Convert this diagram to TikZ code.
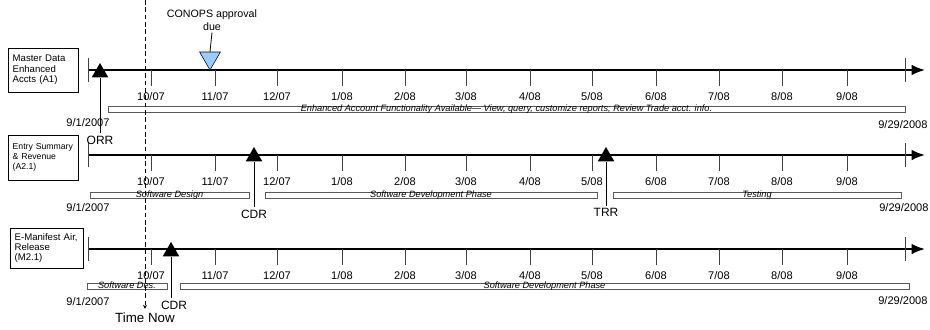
\documentclass[tikz,border=0pt]{standalone}
\usepackage{fontspec}
\setmainfont{Liberation Sans}
\usetikzlibrary{shapes.geometric,arrows.meta}
\definecolor{conopsblue}{RGB}{153,204,255}

\begin{document}
\begin{tikzpicture}[x=0.75pt,y=-0.75pt,
    every node/.style={font=\fontsize{8.3}{9}\selectfont},
    axis/.style={line width=1.5pt, -{Latex[length=10pt,width=8pt]}},
    tick/.style={line width=0.6pt, black!75},
    mile/.style={regular polygon, regular polygon sides=3, fill=black, inner sep=0pt, minimum size=14.25pt},
    milelbl/.style={inner sep=1.5pt, font=\fontsize{9}{10}\selectfont},
    task/.style={draw=black!65, fill=white, line width=0.5pt, inner sep=0pt, minimum height=4.5pt,
        text height=4pt, text depth=0.5pt, font=\fontsize{6.9}{7}\selectfont\itshape},
    project/.style={draw, line width=0.6pt, align=left, inner xsep=3.5pt, inner ysep=2pt,
        font=\fontsize{7.2}{8}\selectfont},
    date/.style={inner sep=0pt}]
    \useasboundingbox (0,0) rectangle (930,329);

    %time lines with month ticks
    \foreach \ry/\rn in {70/a,155/b,249/c}{
        \coordinate (s\rn) at (88,\ry);
        \coordinate (e\rn) at (925,\ry);
        \draw [axis] (s\rn) -- (e\rn);
        \draw [tick] (88,\ry-12) -- (88,\ry+12);
        \draw [tick] (905,\ry-12) -- (905,\ry+12);
        \foreach \mx/\mm/\yy [count=\i] in {151/10/07,215/11/07,277/12/07,342/1/08,405/2/08,466/3/08,
                530/4/08,592/5/08,656/6/08,719/7/08,782/8/08,847/9/08}{
            \draw [tick] (\mx,\ry) -- (\mx,\ry+16);
            \node (m\rn\i) at (\mx,\ry+27) {\mm/\yy};
        }
    }

    %Master Data row
    \node[project, text width=45.5pt, minimum height=33pt] (pA) at (43,70) {Master Data\\Enhanced\\Accts (A1)};
    \node[task, minimum width=797*0.75pt] (enh) at (506.5,109.5)
        {Enhanced Account Functionality Available--- View, query, customize reports; Review Trade acct. info.};
    \node[date] (startA) at (88,123) {9/1/2007};
    \node[date, anchor=west] (endA) at (878,125) {9/29/2008};
    \node[mile] (orrTri) at (100,72.5) {};
    \node[milelbl] (orr) at (100,140) {ORR};
    \draw [line width=0.6pt] (orrTri.south) -- (orr.north);
    \node[regular polygon, regular polygon sides=3, shape border rotate=180, draw, fill=conopsblue,
        inner sep=0pt, minimum size=18pt] (conops) at (210,58) {};
    \node[align=center, inner sep=1pt, font=\fontsize{8}{9.75}\selectfont] (conopsTxt) at (212,20.5) {CONOPS approval\\due};
    \draw [line width=0.6pt] (conopsTxt.south) -- (conops.north);

    %Entry Summary row
    \node[project, text width=45.5pt, minimum height=33.75pt, font=\fontsize{6.5}{7.5}\selectfont] (pB) at (43,157.5)
        {Entry Summary\\\& Revenue\\(A2.1)};
    \node[task, minimum width=159*0.75pt] (swDesign) at (169.5,195.5) {Software Design};
    \node[task, minimum width=332*0.75pt] (swDevB) at (431,195.5) {Software Development Phase};
    \node[task, minimum width=288*0.75pt] (testing) at (757,195.5) {Testing};
    \node[date] (startB) at (88,208) {9/1/2007};
    \node[date, anchor=west] (endB) at (879,208) {9/29/2008};
    \node[mile] (cdrTri) at (254,156.5) {};
    \node[milelbl] (cdr) at (254,214) {CDR};
    \draw [line width=0.6pt] (cdrTri.south) -- (cdr.north);
    \node[mile] (trrTri) at (606,156.5) {};
    \node[milelbl] (trr) at (606,212) {TRR};
    \draw [line width=0.6pt] (trrTri.south) -- (trr.north);

    %E-Manifest row
    \node[project, text width=47.75pt, minimum height=30pt, font=\fontsize{7.2}{7.5}\selectfont] (pC) at (46.5,248)
        {E-Manifest Air,\\Release\\(M2.1)};
    \node[task, minimum width=80*0.75pt] (swDes) at (127,286) {Software Des.};
    \node[task, minimum width=729*0.75pt] (swDevC) at (544.5,286) {Software Development Phase};
    \node[date] (startC) at (88,302) {9/1/2007};
    \node[date, anchor=west] (endC) at (878,301) {9/29/2008};
    \node[mile] (cdrTriC) at (171,251.5) {};
    \node[milelbl] (cdrC) at (174,305) {CDR};
    \draw [line width=0.6pt] (cdrTriC.south) -- (cdrTriC.south |- cdrC.north);

    %time now marker
    \coordinate (nowTop) at (145,0);
    \node[milelbl, inner sep=3pt, font=\fontsize{10}{12}\selectfont] (now) at (145,318) {Time Now};
    \draw [line width=0.75pt, dash pattern=on 3.5pt off 2pt, -{Stealth[length=3pt,width=3pt]}] (nowTop) -- (now.north);

\end{tikzpicture}
\end{document}
